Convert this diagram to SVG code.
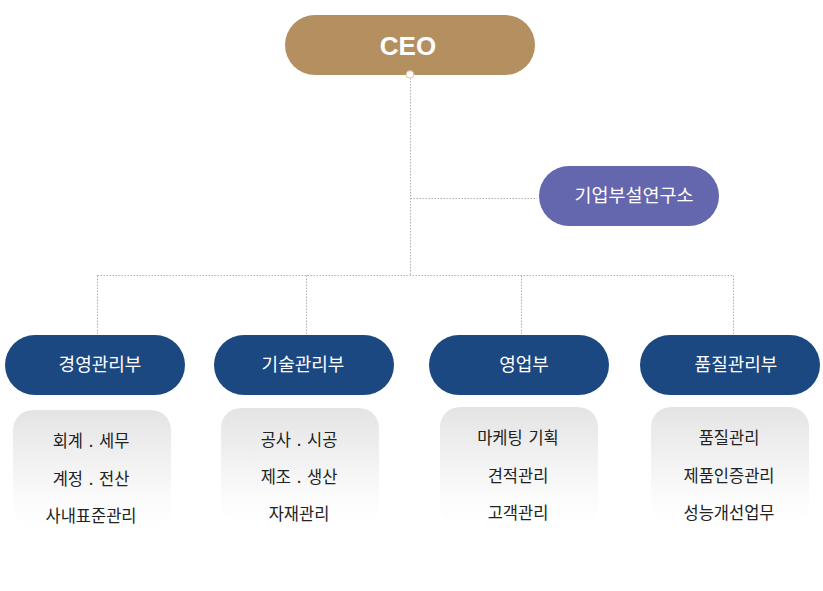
<svg xmlns="http://www.w3.org/2000/svg" width="823" height="591" viewBox="0 0 823 591">
<defs>
<linearGradient id="sub" x1="0" y1="0" x2="0" y2="1">
<stop offset="0" stop-color="#e4e4e4"/>
<stop offset="0.75" stop-color="#fbfbfb"/>
<stop offset="1" stop-color="#ffffff"/>
</linearGradient>
<style>
.ln{fill:none;stroke:#b0b0b0;stroke-width:1;stroke-dasharray:1.5 1.5}
.dept{fill:#1c4882}
.dt{font-family:"Noto Sans CJK KR","Noto Sans",sans-serif;font-size:18px;fill:#ffffff;text-anchor:middle}
.st{font-family:"Noto Sans CJK KR","Noto Sans",sans-serif;font-size:16.5px;fill:#222222;text-anchor:middle;word-spacing:2px}
.box{fill:url(#sub)}
</style>
</defs>
<rect width="823" height="591" fill="#ffffff"/>
<g id="connectors">
<path class="ln" d="M410.5 78 V275.5 M410.5 198.5 H537 M97.5 275.5 H733.5 M97.5 275.5 V335 M306.5 275.5 V335 M521.5 275.5 V335 M733.5 275.5 V335"/>
</g>
<g id="ceo">
<rect x="285" y="15" width="250" height="60" rx="30" fill="#b48f5f"/>
<text x="408" y="54.5" font-family="Liberation Sans,Arial,sans-serif" font-size="26" font-weight="bold" fill="#ffffff" text-anchor="middle">CEO</text>
<circle cx="410" cy="74.5" r="3.8" fill="#ffffff" stroke="#d9c3a5" stroke-width="1"/>
</g>
<g id="lab">
<rect x="539" y="166" width="180" height="60" rx="30" fill="#6466ae"/>
<text x="634" y="202" class="dt" style="font-size:18.5px">기업부설연구소</text>
</g>
<g id="dept1">
<rect class="dept" x="5" y="335" width="180" height="60" rx="30"/>
<text x="100" y="371" class="dt">경영관리부</text>
</g>
<g id="dept2">
<rect class="dept" x="214" y="335" width="180" height="60" rx="30"/>
<text x="303" y="371" class="dt">기술관리부</text>
</g>
<g id="dept3">
<rect class="dept" x="429" y="335" width="180" height="60" rx="30"/>
<text x="524" y="371" class="dt">영업부</text>
</g>
<g id="dept4">
<rect class="dept" x="640" y="335" width="180" height="60" rx="30"/>
<text x="736" y="371" class="dt">품질관리부</text>
</g>
<g id="sub1">
<rect class="box" x="13" y="410" width="158" height="118" rx="20"/>
<text x="91" y="447" class="st">회계 . 세무</text>
<text x="91" y="485" class="st">계정 . 전산</text>
<text x="91" y="522" class="st">사내표준관리</text>
</g>
<g id="sub2">
<rect class="box" x="221" y="408" width="158" height="118" rx="20"/>
<text x="299" y="446" class="st">공사 . 시공</text>
<text x="299" y="483" class="st">제조 . 생산</text>
<text x="299" y="520" class="st">자재관리</text>
</g>
<g id="sub3">
<rect class="box" x="440" y="407" width="158" height="118" rx="20"/>
<text x="518" y="444" class="st">마케팅 기획</text>
<text x="518" y="482" class="st">견적관리</text>
<text x="518" y="519" class="st">고객관리</text>
</g>
<g id="sub4">
<rect class="box" x="651" y="407" width="158" height="118" rx="20"/>
<text x="729" y="444" class="st">품질관리</text>
<text x="729" y="482" class="st">제품인증관리</text>
<text x="729" y="519" class="st">성능개선업무</text>
</g>
</svg>
